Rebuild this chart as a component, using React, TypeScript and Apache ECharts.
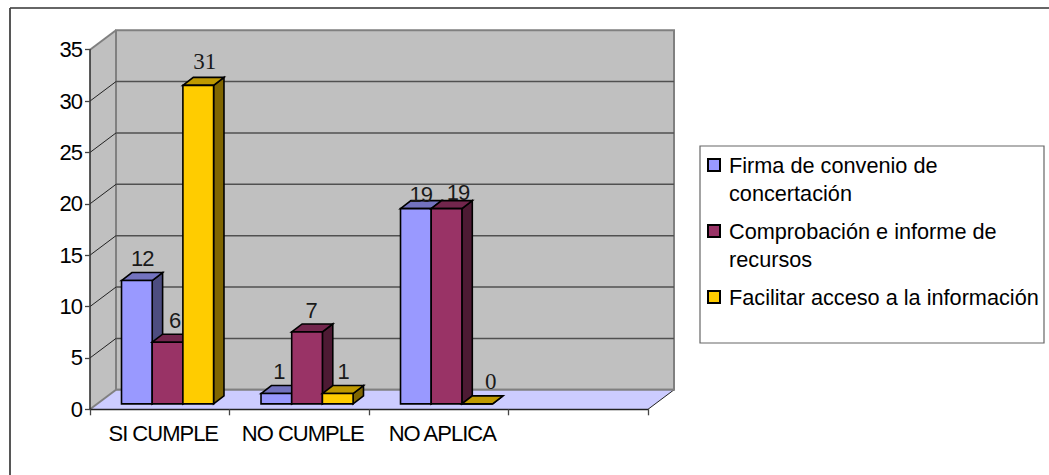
import React, { useEffect, useRef } from "react";
import * as echarts from "echarts";

const categories = ["SI CUMPLE", "NO CUMPLE", "NO APLICA", ""];
const yTicks = [0, 5, 10, 15, 20, 25, 30, 35];
const firmaValues = [12, 1, 19];
const comprobacionValues = [6, 7, 19];
const facilitarValues = [31, 1, 0];
const seriesNames = [
  "Firma de convenio de concertación",
  "Comprobación e informe de recursos",
  "Facilitar acceso a la información",
];
const legendLines: Record<string, string> = {
  "Firma de convenio de concertación": "\nFirma de convenio de\nconcertación",
  "Comprobación e informe de recursos": "\nComprobación e informe de\nrecursos",
  "Facilitar acceso a la información": "\nFacilitar acceso a la información\n",
};

const SANS = "'Liberation Sans', Arial, sans-serif";
const SERIF = "'Liberation Serif', 'Times New Roman', serif";
const DEPTH_X = 26;
const DEPTH_Y = 19.5;
const BAR_NEAR = 0.3;
const BAR_FAR = 0.7;
const BAR_SHARE = 0.22;

const palettes = [
  { front: "#9999FF", top: "#7373BF", side: "#4D4D80" },
  { front: "#993366", top: "#73264D", side: "#4D1A33" },
  { front: "#FFCC00", top: "#BF9900", side: "#806600" },
];
// fine placement of each value label relative to its bar [dx, dy]
const labelTweaks = [
  [[5.5, -22], [2.5, -22], [5, -14]],
  [[7, -22], [4, -21], [11.5, -16]],
  [[6.5, -24], [5.5, -22], [13.5, -22]],
];

function barRenderer(seriesIdx: number) {
  return (params: any, api: any) => {
    const cat = api.value(0);
    const val = api.value(1);
    const [cx, yTop] = api.coord([cat, val]);
    const [, yBase] = api.coord([cat, 0]);
    const band = api.size([1, 0])[0];
    const w = band * BAR_SHARE;
    const nx = BAR_NEAR * DEPTH_X;
    const ny = 0.28 * DEPTH_Y;
    const fx = (BAR_FAR - BAR_NEAR) * DEPTH_X;
    const fy = 0.41 * DEPTH_Y;
    const x0 = cx - 1.5 * w + seriesIdx * w + nx;
    const x1 = x0 + w;
    const t = yTop - ny;
    const b = yBase - ny;
    const pal = palettes[seriesIdx];
    const stroke = { stroke: "#000", lineWidth: 1.6, lineJoin: "miter" };
    const tw = labelTweaks[seriesIdx][cat];
    return {
      type: "group",
      children: [
        {
          type: "polygon",
          shape: { points: [[x1, t], [x1 + fx, t - fy], [x1 + fx, b - fy], [x1, b]] },
          style: { fill: pal.side, ...stroke },
        },
        {
          type: "polygon",
          shape: { points: [[x0, t], [x0 + fx, t - fy], [x1 + fx, t - fy], [x1, t]] },
          style: { fill: pal.top, ...stroke },
        },
        {
          type: "rect",
          shape: { x: x0, y: t, width: w, height: b - t },
          style: { fill: pal.front, ...stroke },
        },
        {
          type: "text",
          z2: 50,
          style: {
            x: (x0 + x1) / 2 + tw[0],
            y: t + tw[1],
            text: String(val),
            fill: "#1a1a1a",
            font: seriesIdx === 2 && cat !== 1 ? `23px ${SERIF}` : `22px ${SANS}`,
            textAlign: "center",
            textVerticalAlign: "middle",
          },
        },
      ],
    };
  };
}

function wallRenderer(params: any, api: any) {
  const { x, width } = params.coordSys;
  const tick = api.value(1);
  const [, y] = api.coord([0, tick]);
  const [, yZero] = api.coord([0, 0]);
  const [, yMax] = api.coord([0, yTicks[yTicks.length - 1]]);
  const bx = x + DEPTH_X;
  const children: any[] = [];
  if (tick === yTicks[0]) {
    children.push(
      {
        type: "polygon",
        shape: { points: [[x, yMax], [bx, yMax - DEPTH_Y], [bx, yZero - DEPTH_Y], [x, yZero]] },
        style: { fill: "#C0C0C0" },
      },
      {
        type: "rect",
        shape: { x: bx, y: yMax - DEPTH_Y, width, height: yZero - yMax },
        style: { fill: "#C0C0C0", stroke: "#808080", lineWidth: 2 },
      },
      {
        type: "polygon",
        shape: {
          points: [[x, yZero], [bx, yZero - DEPTH_Y], [bx + width, yZero - DEPTH_Y], [x + width, yZero]],
        },
        style: { fill: "#CCCCFF" },
      },
      {
        type: "line",
        shape: { x1: x + width, y1: yZero, x2: bx + width, y2: yZero - DEPTH_Y },
        style: { stroke: "#222", lineWidth: 1 },
      },
      {
        type: "line",
        shape: { x1: bx, y1: yZero - DEPTH_Y, x2: bx + width, y2: yZero - DEPTH_Y },
        style: { stroke: "#808080", lineWidth: 2 },
      }
    );
  }
  const edge = tick === yTicks[0] || tick === yTicks[yTicks.length - 1];
  children.push({
    type: "line",
    shape: { x1: x, y1: y, x2: bx, y2: y - DEPTH_Y },
    style: { stroke: edge ? "#808080" : "#222", lineWidth: edge ? 2 : 1 },
  });
  if (!edge) {
    children.push({
      type: "line",
      shape: { x1: bx, y1: y - DEPTH_Y, x2: bx + width, y2: y - DEPTH_Y },
      style: { stroke: "#505050", lineWidth: 1.4 },
    });
  }
  return { type: "group", children };
}

export default function App() {
  const ref = useRef<HTMLDivElement>(null);
  useEffect(() => {
    document.body.style.margin = "0";
    document.body.style.background = "#fff";
    const chart = echarts.init(ref.current!, null, { renderer: "svg" });
    const seriesValues = [firmaValues, comprobacionValues, facilitarValues];
    chart.setOption({
      animation: false,
      backgroundColor: "#fff",
      textStyle: { fontFamily: SANS },
      grid: { left: 90, top: 49.7, width: 558, height: 359.6, containLabel: false },
      xAxis: {
        type: "category",
        data: categories,
        boundaryGap: true,
        z: 3,
        axisLine: { show: true, lineStyle: { color: "#222", width: 1.3 } },
        axisTick: { show: true, length: 6, alignWithLabel: false, lineStyle: { color: "#444", width: 1.3 } },
        axisLabel: { color: "#000", fontSize: 22, fontFamily: SANS, margin: 13, interval: 0, padding: [0, 0, 0, 7] },
        splitLine: { show: false },
      },
      yAxis: {
        type: "value",
        min: 0,
        max: 35,
        interval: 5,
        z: 3,
        axisLine: { show: true, lineStyle: { color: "#333", width: 1.6 } },
        axisTick: { show: true, length: 5, lineStyle: { color: "#444", width: 1.3 } },
        axisLabel: { color: "#000", fontSize: 22, fontFamily: SANS, margin: 8 },
        splitLine: { show: false },
      },
      legend: {
        orient: "vertical",
        left: 707,
        top: 123,
        padding: 0,
        data: seriesNames,
        selectedMode: false,
        icon: "rect",
        itemWidth: 12,
        itemHeight: 12,
        itemGap: -18,
        formatter: (n: string) => legendLines[n],
        itemStyle: { borderColor: "#000", borderWidth: 2 },
        textStyle: { color: "#000", fontSize: 21.7, lineHeight: 28, fontFamily: SANS, padding: [0, 0, 0, 4] },
      },
      graphic: [
        { type: "line", shape: { x1: 10, y1: 8, x2: 1049, y2: 8 }, style: { stroke: "#333", lineWidth: 1.5 } },
        { type: "line", shape: { x1: 10, y1: 8, x2: 10, y2: 475 }, style: { stroke: "#444", lineWidth: 1.8 } },
        {
          type: "rect",
          shape: { x: 700, y: 146, width: 344, height: 197 },
          style: { fill: "none", stroke: "#666", lineWidth: 1.2 },
        },
      ],
      series: [
        {
          name: "_walls",
          type: "custom",
          z: 1,
          silent: true,
          clip: false,
          encode: { x: 0, y: 1 },
          data: yTicks.map((t) => [0, t]),
          renderItem: wallRenderer,
        },
        ...seriesNames.map((name, i) => ({
          name,
          type: "custom",
          z: 4 + i,
          clip: false,
          encode: { x: 0, y: 1 },
          itemStyle: { color: palettes[i].front },
          data: seriesValues[i].map((v, c) => [c, v]),
          renderItem: barRenderer(i),
        })),
      ],
    });
    return () => chart.dispose();
  }, []);
  return (
    <>
      <style>{`svg text[style*="22px"] { letter-spacing: -1px; }`}</style>
      <div ref={ref} style={{ position: "absolute", left: 0, top: 0, width: 1049, height: 475 }} />
    </>
  );
}
